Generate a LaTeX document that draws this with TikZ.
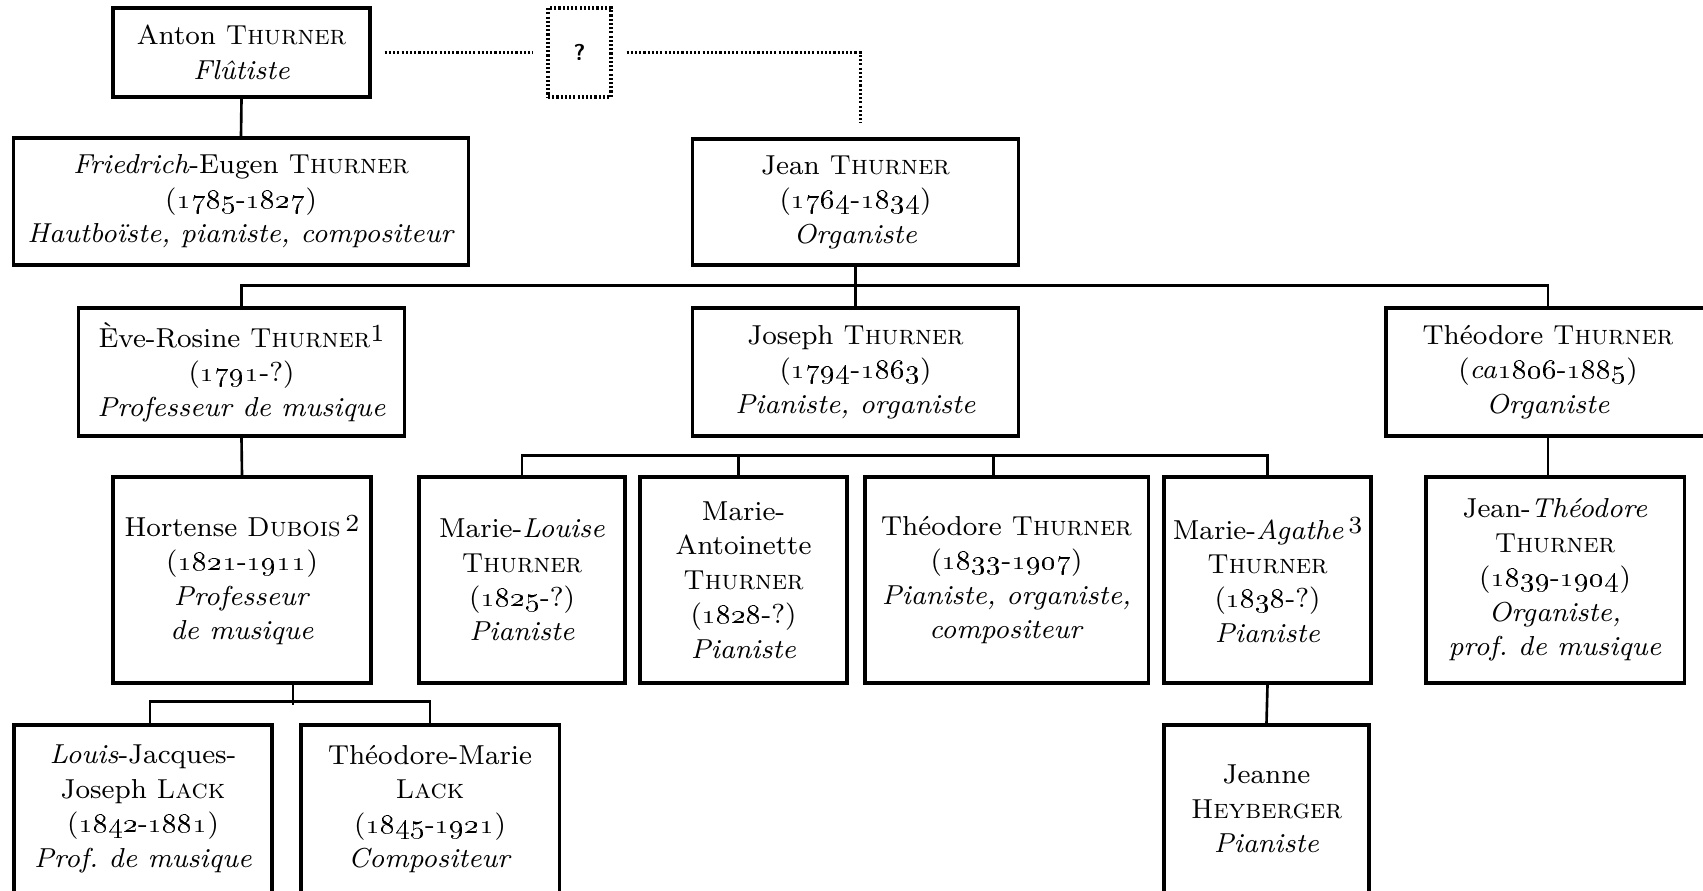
\documentclass[tikz,border=0pt]{standalone}
\usepackage{tikz}
\usetikzlibrary{positioning,calc}
\newcommand{\os}[1]{\oldstylenums{#1}}
\newcommand{\note}[1]{\raisebox{0.45ex}{\scriptsize #1}}
\frenchspacing

\begin{document}
\begin{tikzpicture}[x=0.01cm, y=-0.01cm,
    personbox/.style={rectangle, draw=black, fill=white, align=center, inner sep=0pt, line width=0.9pt, font=\fontsize{7.8}{9.8}\selectfont},
    unknownbox/.style={rectangle, draw=black, line width=0.9pt, dash pattern=on 0.6pt off 0.6pt, minimum width=0.63cm, minimum height=0.89cm, font=\fontsize{6.5}{8}\selectfont\sffamily\bfseries},
    link/.style={line width=0.75pt},
    guess/.style={line width=0.9pt, dash pattern=on 0.6pt off 0.6pt},
  ]
    \useasboundingbox (0,0) rectangle (1703,890);
    \clip (0,0) rectangle (1703,890);

    % first generation
    \node[personbox, minimum width=2.57cm, minimum height=0.89cm] (anton) at (241.5,52.5) {Anton \textsc{Thurner}\\ \textit{Flûtiste}};
    \node[unknownbox] (unknown) at (579.5,52.5) {?};
    \node[personbox, minimum width=4.54cm, minimum height=1.27cm] (friedrich) at (241,201.5) {\textit{Friedrich}-Eugen \textsc{Thurner}\\ (\os{1785}-\os{1827})\\ \textit{Hautboïste, pianiste, compositeur}};
    \node[personbox, minimum width=3.25cm, minimum height=1.26cm] (jean) at (855.5,202) {Jean \textsc{Thurner}\\ (\os{1764}-\os{1834})\\ \textit{Organiste}};

    % children of Jean
    \node[personbox, minimum width=3.25cm, minimum height=1.28cm] (eve) at (241.5,372) {Ève-Rosine \textsc{Thurner}\note{1}\\ (\os{1791}-?)\\ \textit{Professeur de musique}};
    \node[personbox, minimum width=3.25cm, minimum height=1.28cm] (joseph) at (855.5,372) {Joseph \textsc{Thurner}\\ (\os{1794}-\os{1863})\\ \textit{Pianiste, organiste}};
    \node[personbox, minimum width=3.24cm, minimum height=1.28cm] (theodoreA) at (1548,372) {Théodore \textsc{Thurner}\\ (\textit{ca}\os{1806}-\os{1885})\\ \textit{Organiste}};

    % grandchildren
    \node[personbox, minimum width=2.58cm, minimum height=2.06cm] (hortense) at (242,580) {Hortense \textsc{Dubois}\,\note{2}\\ (\os{1821}-\os{1911})\\ \textit{Professeur}\\ \textit{de musique}};
    \node[personbox, minimum width=2.06cm, minimum height=2.06cm] (mlouise) at (522,580) {Marie-\textit{Louise}\\ \textsc{Thurner}\\ (\os{1825}-?)\\ \textit{Pianiste}};
    \node[personbox, minimum width=2.07cm, minimum height=2.06cm] (mantoinette) at (743.5,580) {Marie-\\ Antoinette\\ \textsc{Thurner}\\ (\os{1828}-?)\\ \textit{Pianiste}};
    \node[personbox, minimum width=2.83cm, minimum height=2.06cm] (theodoreB) at (1006.5,580) {Théodore \textsc{Thurner}\\ (\os{1833}-\os{1907})\\ \textit{Pianiste, organiste,}\\ \textit{compositeur}};
    \node[personbox, minimum width=2.07cm, minimum height=2.06cm] (magathe) at (1267.5,580) {Marie-\textit{Agathe}\,\note{3}\\ \textsc{Thurner}\\ (\os{1838}-?)\\ \textit{Pianiste}};
    \node[personbox, minimum width=2.58cm, minimum height=2.06cm] (jtheodore) at (1555,580) {Jean-\textit{Théodore}\\ \textsc{Thurner}\\ (\os{1839}-\os{1904})\\ \textit{Organiste,}\\ \textit{prof. de musique}};

    % great-grandchildren
    \node[personbox, minimum width=2.58cm, minimum height=1.68cm] (louis) at (143,809) {\textit{Louis}-Jacques-\\ Joseph \textsc{Lack}\\ (\os{1842}-\os{1881})\\ \textit{Prof. de musique}};
    \node[personbox, minimum width=2.58cm, minimum height=1.68cm] (tmarie) at (430,809) {Théodore-Marie\\ \textsc{Lack}\\ (\os{1845}-\os{1921})\\ \textit{Compositeur}};
    \node[personbox, minimum width=2.05cm, minimum height=1.68cm] (jeanne) at (1266.5,809) {Jeanne\\ \textsc{Heyberger}\\ \textit{Pianiste}};

    % links
    \draw[guess, shorten <=0.13cm, shorten >=0.14cm] (anton.east) -- (unknown.west);
    \draw[guess, shorten <=0.14cm, shorten >=0.14cm] (unknown.east) -| ([xshift=0.05cm]jean.north);
    \draw[link] (anton.south) -- (friedrich.north);
    \draw[link] (jean.south) -- (joseph.north);
    \draw[link] (eve.north) -- ++(0,-21) -| (theodoreA.north);
    \draw[link] (eve.south) -- (hortense.north);
    \draw[link] (mlouise.north) -- ++(0,-20) -| (magathe.north);
    \draw[link] ([xshift=-0.05cm]mantoinette.north) -- ++(0,-20);
    \draw[link] ([xshift=-0.13cm]theodoreB.north) -- ++(0,-20);
    \draw[link] (theodoreA.south) -- (theodoreA.south |- jtheodore.north);
    \draw[link] (magathe.south) -- (jeanne.north);
    \draw[link] ([xshift=0.51cm]hortense.south) -- ++(0,20);
    \draw[link] ([xshift=0.07cm]louis.north) -- ++(0,-22) -| (tmarie.north);
  \end{tikzpicture}
\end{document}
